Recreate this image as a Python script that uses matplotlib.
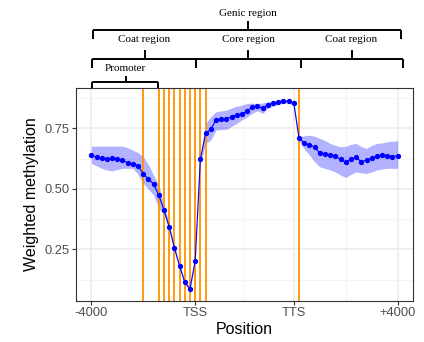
import matplotlib
matplotlib.use("Agg")
import matplotlib.pyplot as plt
import matplotlib.transforms as mtransforms
import numpy as np

# ---- data (bin index 1..60) ----
bins = list(range(1, 61))
methylation = [0.641, 0.631, 0.626, 0.622, 0.627, 0.623, 0.620, 0.607, 0.604, 0.596,
               0.562, 0.541, 0.519, 0.474, 0.412, 0.343, 0.256, 0.181, 0.114, 0.087,
               0.202, 0.622, 0.729, 0.746, 0.784, 0.787, 0.790, 0.798, 0.806, 0.809,
               0.823, 0.837, 0.842, 0.833, 0.848, 0.853, 0.859, 0.862, 0.862, 0.853,
               0.709, 0.691, 0.681, 0.674, 0.647, 0.644, 0.641, 0.636, 0.622, 0.610,
               0.622, 0.630, 0.612, 0.619, 0.626, 0.636, 0.641, 0.638, 0.633, 0.638]
upper = [0.677, 0.677, 0.677, 0.677, 0.677, 0.677, 0.677, 0.670, 0.660, 0.650,
         0.633, 0.600, 0.557, 0.516, 0.433, 0.355, 0.266, 0.190, 0.122, 0.094,
         0.210, 0.640, 0.771, 0.798, 0.819, 0.822, 0.826, 0.834, 0.842, 0.846,
         0.853, 0.855, 0.853, 0.855, 0.860, 0.862, 0.866, 0.870, 0.870, 0.862,
         0.715, 0.720, 0.722, 0.718, 0.709, 0.700, 0.688, 0.680, 0.674, 0.676,
         0.684, 0.688, 0.675, 0.667, 0.680, 0.688, 0.690, 0.695, 0.697, 0.699]
lower = [0.605, 0.595, 0.585, 0.578, 0.574, 0.580, 0.585, 0.585, 0.585, 0.560,
         0.523, 0.500, 0.474, 0.420, 0.392, 0.331, 0.246, 0.172, 0.106, 0.080,
         0.194, 0.604, 0.688, 0.702, 0.743, 0.745, 0.746, 0.758, 0.771, 0.785,
         0.798, 0.812, 0.823, 0.812, 0.833, 0.842, 0.850, 0.854, 0.854, 0.844,
         0.700, 0.665, 0.640, 0.612, 0.591, 0.585, 0.578, 0.570, 0.557, 0.547,
         0.560, 0.571, 0.566, 0.564, 0.570, 0.578, 0.582, 0.585, 0.585, 0.585]
orange_lines = [11, 14, 15, 16, 17, 18, 19, 20, 21, 22, 23, 41]
tick_pos = [1, 21, 40, 60]
tick_labels = ["-4000", "TSS", "TTS", "+4000"]
ytick_pos = [0.25, 0.50, 0.75]
ytick_labels = ["0.25", "0.50", "0.75"]

W, H = 424, 342
fig = plt.figure(figsize=(W / 100, H / 100), dpi=100)
ax = fig.add_axes([76 / W, 1 - 300.7 / H, (413 - 76) / W, (300.7 - 88) / H])

ax.set_xlim(1 - 0.05 * 59, 60 + 0.05 * 59)
ax.set_ylim(0.038, 0.917)

# grid
for y in [0.125, 0.375, 0.625, 0.875]:
    ax.axhline(y, color="#F2F2F2", lw=0.6, zorder=0)
for y in ytick_pos:
    ax.axhline(y, color="#EBEBEB", lw=1.1, zorder=0)
for x in [11, 30.5, 50]:
    ax.axvline(x, color="#F2F2F2", lw=0.6, zorder=0)
for x in tick_pos:
    ax.axvline(x, color="#EBEBEB", lw=1.1, zorder=0)

ax.fill_between(bins, lower, upper, color="#0000FF", alpha=0.3, lw=0, zorder=1)
for x in orange_lines:
    ax.axvline(x, color="#FF9200", lw=1.3, zorder=2)
ax.plot(bins, methylation, color="#0000FF", lw=0.8, marker="o", ms=2.8, zorder=3)

ax.set_xticks(tick_pos)
ax.set_xticklabels(tick_labels, fontfamily="Liberation Sans", fontsize=9.3, color="#4D4D4D")
ax.set_yticks(ytick_pos)
ax.set_yticklabels(ytick_labels, fontfamily="Liberation Sans", fontsize=9.3, color="#4D4D4D")
ax.tick_params(length=2.75, width=0.8, color="#333333", pad=2)
for s in ax.spines.values():
    s.set_color("#333333")
    s.set_linewidth(0.8)

ax.set_xlabel("Position", fontfamily="Liberation Sans", fontsize=11.5, labelpad=2)
ax.set_ylabel("Weighted methylation", fontfamily="Liberation Sans", fontsize=11.5, labelpad=4)

# ---- bracket annotations above the panel ----
tr = mtransforms.blended_transform_factory(ax.transData, fig.transFigure)
def fy(py):
    return 1 - py / H

def seg(x0, x1, y0, y1):
    line = plt.Line2D([x0, x1], [fy(y0), fy(y1)], transform=tr, color="black",
                      lw=1.4, clip_on=False, solid_capstyle="butt")
    fig.add_artist(line)

def txt(x, py, s):
    fig.text(x, fy(py), s, transform=tr, ha="center", va="center",
             fontfamily="Liberation Serif", fontsize=8)

# Genic region
txt(31.1, 14, "Genic region")
seg(1.3, 60.7, 30, 30)
seg(1.3, 1.3, 30, 39)
seg(60.7, 60.7, 30, 39)
seg(31.1, 31.1, 21, 30)

# second tier
txt(11.25, 39.5, "Coat region")
txt(31.3, 39.5, "Core region")
txt(51.0, 39.5, "Coat region")
seg(1.1, 61.1, 59, 59)
for x in [1.1, 21.1, 41.3, 61.1]:
    seg(x, x, 59, 68)
for x in [11.25, 31.1, 51.2]:
    seg(x, x, 49.5, 59)

# Promoter
txt(7.6, 68.5, "Promoter")
seg(1.2, 13.9, 81.5, 81.5)
seg(1.2, 1.2, 81.5, 88)
seg(13.9, 13.9, 81.5, 88)
seg(7.6, 7.6, 75.5, 81.5)

fig.savefig("out.png", dpi=100)
